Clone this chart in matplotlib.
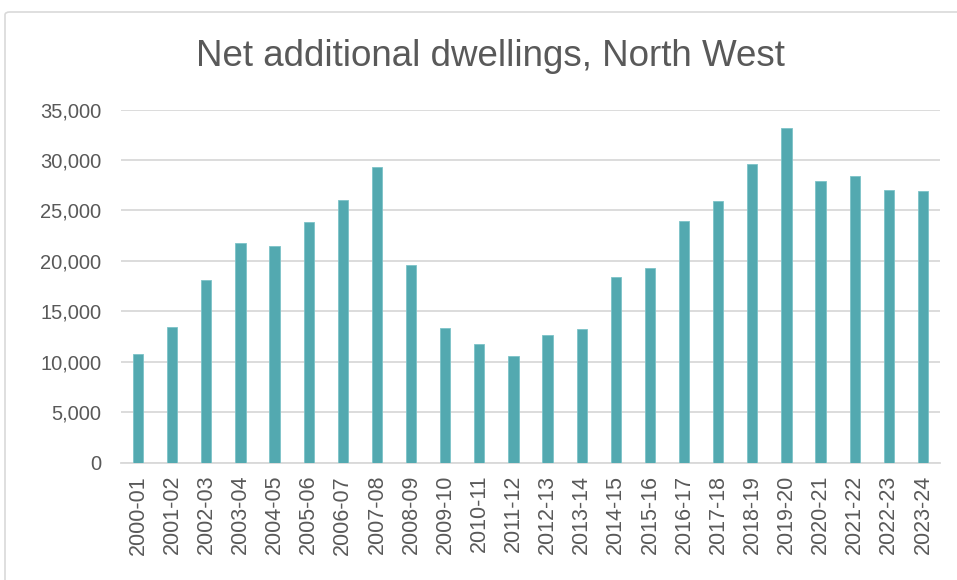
import matplotlib
matplotlib.use("Agg")
import matplotlib.pyplot as plt
from matplotlib.patches import FancyBboxPatch

categories = ["2000-01", "2001-02", "2002-03", "2003-04", "2004-05", "2005-06",
              "2006-07", "2007-08", "2008-09", "2009-10", "2010-11", "2011-12",
              "2012-13", "2013-14", "2014-15", "2015-16", "2016-17", "2017-18",
              "2018-19", "2019-20", "2020-21", "2021-22", "2022-23", "2023-24"]
values = [10710, 13480, 18110, 21810, 21450, 23830, 26010, 29280, 19600, 13350,
          11760, 10570, 12660, 13220, 18370, 19330, 23960, 25880, 29640, 33150,
          27960, 28450, 27000, 26900]
yticks = [0, 5000, 10000, 15000, 20000, 25000, 30000, 35000]
title = "Net additional dwellings, North West"

plt.rcParams['font.family'] = ['Liberation Sans', 'DejaVu Sans']
text_color = "#595959"
grid_color = "#D9D9D9"
bar_color = "#53A9B0"

W, H = 957, 580
fig = plt.figure(figsize=(W / 100, H / 100), dpi=100)

# outer chart border (extends past right and bottom edges)
border = FancyBboxPatch((5 / W, -0.1), 1.2, 1.1 - 12 / H,
                        boxstyle="round,pad=0,rounding_size=0.005",
                        transform=fig.transFigure, fill=False,
                        edgecolor="#D9D9D9", linewidth=1.2)
fig.patches.append(border)

left, right, top, bottom = 121, 940, 109.5, 462.5
ax = fig.add_axes([left / W, 1 - bottom / H, (right - left) / W, (bottom - top) / H])

x = range(len(categories))
ax.bar(x, values, width=0.30, color=bar_color, edgecolor="#7CC3C8",
       linewidth=0.6, zorder=3)

ax.set_xlim(-0.5, len(categories) - 0.5)
ax.set_ylim(0, 35000)
ax.set_yticks(yticks)
ax.set_yticklabels([f"{v:,}" for v in yticks], fontsize=14.5, color=text_color)
ax.set_xticks(list(x))
ax.set_xticklabels(categories, rotation=90, fontsize=15.5, color=text_color)

ax.grid(axis='y', color=grid_color, linewidth=1.3, zorder=0)
for s in ["top", "right", "left"]:
    ax.spines[s].set_visible(False)
ax.spines["bottom"].set_color(grid_color)
ax.spines["bottom"].set_linewidth(1.3)
ax.tick_params(axis='both', length=0)
ax.tick_params(axis='y', pad=14)
ax.tick_params(axis='x', pad=9)

fig.text((190 + 790) / 2 / W, 1 - 57 / H, title, ha='center', va='center',
         fontsize=26.5, color=text_color)

fig.savefig("out.png", dpi=100)
